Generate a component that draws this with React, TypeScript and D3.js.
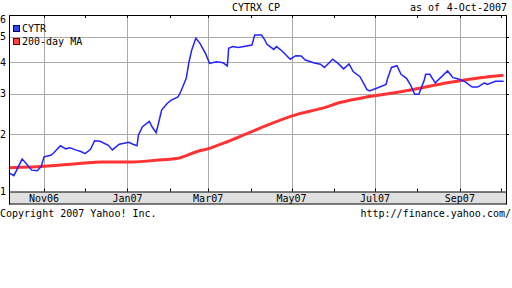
import React from "react";
import * as d3 from "d3";

const cytrDates = [
  "2006-10-06","2006-10-10","2006-10-16","2006-10-18","2006-10-23","2006-10-27","2006-10-30",
  "2006-11-01","2006-11-06","2006-11-08","2006-11-13","2006-11-17","2006-11-20","2006-11-24","2006-11-28",
  "2006-12-01","2006-12-05","2006-12-08","2006-12-12","2006-12-18","2006-12-21","2006-12-26",
  "2007-01-02","2007-01-05","2007-01-08","2007-01-09","2007-01-12","2007-01-17","2007-01-19","2007-01-22","2007-01-24","2007-01-26","2007-01-30",
  "2007-02-02","2007-02-07","2007-02-09","2007-02-13","2007-02-15","2007-02-17","2007-02-20","2007-02-23","2007-02-27",
  "2007-03-02","2007-03-07","2007-03-12","2007-03-15","2007-03-16","2007-03-19","2007-03-23",
  "2007-04-02","2007-04-04","2007-04-09","2007-04-11","2007-04-13","2007-04-18","2007-04-20","2007-04-24","2007-04-30",
  "2007-05-04","2007-05-08","2007-05-11","2007-05-17","2007-05-22","2007-05-25","2007-05-31",
  "2007-06-04","2007-06-08","2007-06-12","2007-06-15","2007-06-20","2007-06-25","2007-06-27",
  "2007-07-03","2007-07-09","2007-07-10","2007-07-13","2007-07-17","2007-07-20","2007-07-24","2007-07-27","2007-07-30",
  "2007-08-02","2007-08-06","2007-08-07","2007-08-10","2007-08-14","2007-08-23","2007-08-27","2007-08-31",
  "2007-09-05","2007-09-10","2007-09-14","2007-09-19","2007-09-21","2007-09-27","2007-10-03",
];
const cytrValues = [
  1.28,1.23,1.51,1.46,1.32,1.31,1.38,
  1.55,1.58,1.62,1.76,1.70,1.72,1.68,1.65,
  1.61,1.69,1.86,1.85,1.77,1.68,1.79,
  1.83,1.79,1.76,1.98,2.16,2.28,2.16,2.03,2.28,2.56,2.73,
  2.82,2.91,3.06,3.46,4.02,4.46,4.93,4.72,4.33,
  3.96,4.02,3.98,3.87,4.52,4.59,4.55,
  4.65,5.07,5.07,4.90,4.68,4.48,4.59,4.42,4.11,
  4.24,4.23,4.08,3.98,3.93,3.82,4.11,
  3.96,3.77,3.94,3.68,3.51,3.12,3.08,
  3.17,3.27,3.43,3.82,3.88,3.59,3.46,3.25,2.98,
  2.98,3.41,3.59,3.59,3.32,3.70,3.48,3.44,
  3.35,3.19,3.19,3.32,3.27,3.37,3.37,
];

const maDates = [
  "2006-10-06","2006-11-04","2006-11-15","2006-12-06","2006-12-13","2007-01-05","2007-01-22",
  "2007-02-06","2007-02-21","2007-03-02","2007-03-15","2007-03-27","2007-04-08","2007-05-05",
  "2007-05-23","2007-06-06","2007-06-23","2007-07-08","2007-07-29","2007-08-23","2007-09-16","2007-10-03",
];
const maValues = [
  1.36,1.39,1.41,1.45,1.46,1.46,1.49,
  1.52,1.65,1.71,1.84,1.98,2.13,2.45,
  2.60,2.76,2.89,2.98,3.12,3.32,3.48,3.56,
];

const yTicks = [1, 2, 3, 4, 5, 6];
const majorMonthDates = ["2006-11-01","2007-01-01","2007-03-01","2007-05-01","2007-07-01","2007-09-01"];
const majorMonthLabels = ["Nov06","Jan07","Mar07","May07","Jul07","Sep07"];
const minorMonthDates = ["2006-12-01","2007-02-01","2007-04-01","2007-06-01","2007-08-01","2007-10-01"];

const title = "CYTRX CP";
const asOfLabel = "as of";
const asOfDate = "4-Oct-2007";
const legendLabels = ["CYTR", "200-day MA"];
const copyright = "Copyright 2007 Yahoo! Inc.";
const siteUrl = "http://finance.yahoo.com/";

const parse = d3.timeParse("%Y-%m-%d");

export default function App() {
  const L = 9, R = 506, T = 15, B = 191.5, bandBottom = 204.5;
  const font = "'DejaVu Sans Mono', monospace";
  const x = d3.scaleTime()
    .domain([parse("2006-10-04")!, parse("2007-10-04")!])
    .range([5.7, 505]);
  const y = d3.scaleSymlog().constant(1).domain([1, 6]).range([191, 15]);

  const cytr = cytrDates.map((d, i) => ({ d: parse(d)!, v: cytrValues[i] }));
  const ma = maDates.map((d, i) => ({ d: parse(d)!, v: maValues[i] }));

  const lineLinear = d3.line<{ d: Date; v: number }>().x(p => x(p.d)).y(p => y(p.v));
  const lineSmooth = d3.line<{ d: Date; v: number }>().x(p => x(p.d)).y(p => y(p.v)).curve(d3.curveMonotoneX);

  const gridColor = "#aaaaaa";

  return (
    <svg width={512} height={288} style={{ position: "absolute", left: 0, top: 0, background: "#fff" }}>
      <defs>
        <clipPath id="plotclip">
          <rect x={L} y={T} width={R - L} height={B - T} />
        </clipPath>
      </defs>
      <rect x={0} y={0} width={512} height={288} fill="#fff" />
      {/* horizontal gridlines */}
      {yTicks.filter(t => t > 1 && t < 6).map(t => (
        <line key={"h" + t} x1={L} x2={R + 3} y1={Math.round(y(t)) + 0.5} y2={Math.round(y(t)) + 0.5} stroke={gridColor} strokeWidth={1} />
      ))}
      {yTicks.filter(t => t > 1 && t < 6).map(t => (
        <line key={"rt" + t} x1={R} x2={R + 3} y1={Math.round(y(t)) + 0.5} y2={Math.round(y(t)) + 0.5} stroke="#000" strokeWidth={1} />
      ))}
      {/* vertical gridlines */}
      {majorMonthDates.map(d => {
        const xx = Math.round(x(parse(d)!)) + 0.5;
        return <line key={"v" + d} x1={xx} x2={xx} y1={T} y2={B} stroke={gridColor} strokeWidth={1} />;
      })}
      {/* minor ticks */}
      {minorMonthDates.concat(majorMonthDates).map(d => {
        const xx = Math.round(x(parse(d)!)) + 0.5;
        return (
          <g key={"m" + d}>
            <line x1={xx} x2={xx} y1={T} y2={T + 3} stroke="#000" strokeWidth={1} />
            <line x1={xx} x2={xx} y1={B - 3} y2={B} stroke="#000" strokeWidth={1} />
          </g>
        );
      })}
      {/* series */}
      <g clipPath="url(#plotclip)">
        <path d={lineSmooth(ma) || ""} fill="none" stroke="#ff3333" strokeWidth={3} />
        <path d={lineLinear(cytr) || ""} fill="none" stroke="#2323ff" strokeWidth={1.5} />
      </g>
      {/* frame */}
      <line x1={L + 0.5} x2={L + 0.5} y1={T} y2={bandBottom} stroke="#000" />
      <line x1={R + 0.5} x2={R + 0.5} y1={T} y2={bandBottom} stroke="#000" />
      <line x1={L} x2={R + 1} y1={T + 0.5} y2={T + 0.5} stroke="#000" />
      <rect x={L + 0.5} y={B + 0.5} width={R - L} height={bandBottom - B - 1} fill="#e0e0e0" stroke="#000" />
      {/* x labels */}
      {majorMonthDates.map((d, i) => (
        <text key={"xl" + d} x={x(parse(d)!)} y={202} textAnchor="middle" fontFamily={font} fontSize={10} fill="#000">
          {majorMonthLabels[i]}
        </text>
      ))}
      {/* y labels */}
      {yTicks.map(t => (
        <text key={"yl" + t} x={0} y={(t === 6 ? y(t) + 4 : y(t)) + 3.5} textAnchor="start" fontFamily={font} fontSize={10} fill="#000">
          {t}
        </text>
      ))}
      {/* title */}
      <text x={256} y={11} textAnchor="middle" fontFamily={font} fontSize={10} fill="#000">{title}</text>
      <text x={410} y={11} textAnchor="start" fontFamily={font} fontSize={10} fill="#000">{asOfLabel}</text>
      <text x={507} y={11} textAnchor="end" fontFamily={font} fontSize={10} fill="#000">{asOfDate}</text>
      {/* legend */}
      <rect x={13.5} y={25.5} width={6} height={6} fill="#3344ff" stroke="#000066" />
      <text x={22} y={32} fontFamily={font} fontSize={10} fill="#000">{legendLabels[0]}</text>
      <rect x={13.5} y={38.5} width={6} height={6} fill="#ff4444" stroke="#660000" />
      <text x={22} y={45} fontFamily={font} fontSize={10} fill="#000">{legendLabels[1]}</text>
      {/* footer */}
      <text x={0} y={217} fontFamily={font} fontSize={10} fill="#000">{copyright}</text>
      <text x={511} y={217} textAnchor="end" fontFamily={font} fontSize={10} fill="#000">{siteUrl}</text>
    </svg>
  );
}
